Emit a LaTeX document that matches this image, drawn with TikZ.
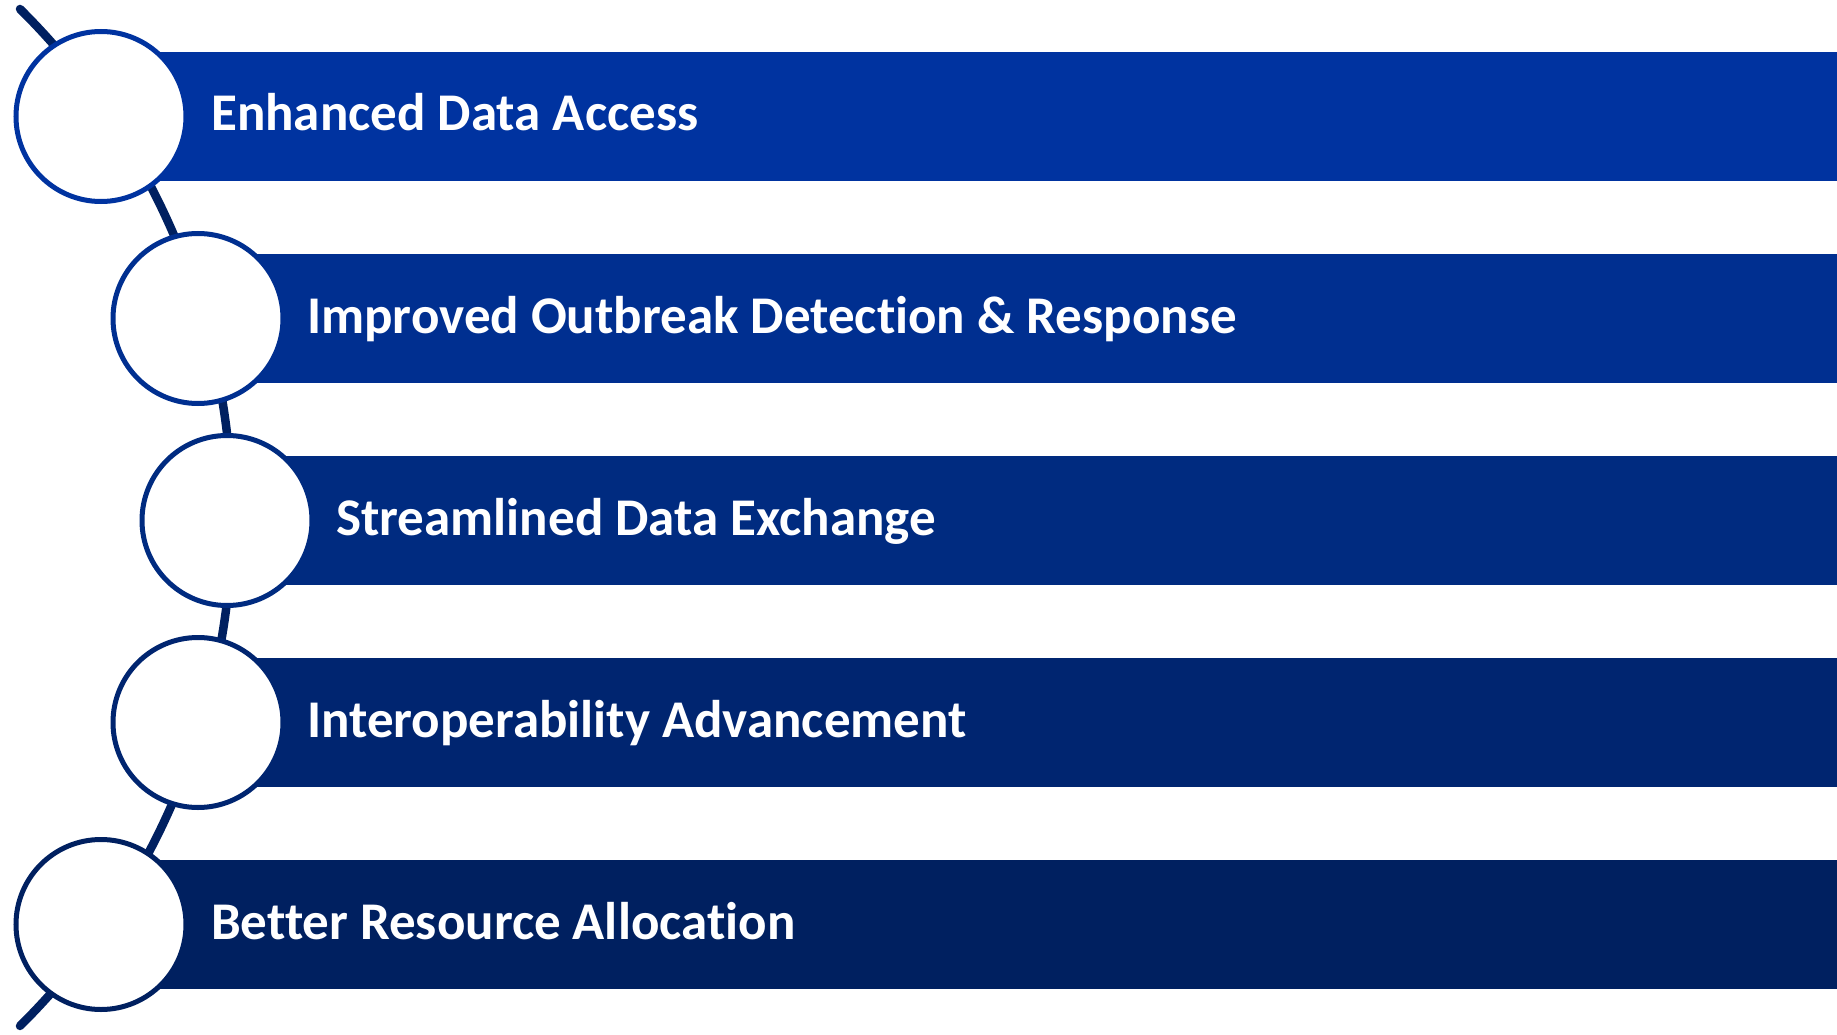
\documentclass[tikz,border=0pt]{standalone}
\usepackage{fontspec}
\setmainfont[Ligatures=NoCommon]{Carlito}
\pgfdeclarelayer{bg}
\pgfsetlayers{bg,main}
\definecolor{rowA}{RGB}{0,51,160}
\definecolor{rowB}{RGB}{0,47,144}
\definecolor{rowC}{RGB}{0,43,128}
\definecolor{rowD}{RGB}{0,37,112}
\definecolor{rowE}{RGB}{0,32,96}
\definecolor{linkc}{RGB}{0,32,96}
\begin{document}
\begin{tikzpicture}[x=1pt,y=-1pt,
  disc/.style={circle,fill=white,line width=5pt,minimum size=170pt,inner sep=0pt},
  label/.style={anchor=base west,text=white,font=\bfseries\fontsize{53}{62}\selectfont,inner sep=0pt},
  link/.style={draw=linkc,line width=8.5pt,line cap=round}]
\useasboundingbox (0,0) rectangle (1837,1035);

% horizontal bands, one per row
\begin{pgfonlayer}{bg}
  \foreach \cx/\cy/\col in {101/116.5/rowA,198/318.5/rowB,227/520.5/rowC,198/722.5/rowD,101/924.5/rowE}
    \fill[\col] (\cx,\cy-64.5) rectangle (1837,\cy+64.5);
\end{pgfonlayer}

% white discs on the curved spine
\node[disc,draw=rowA] (c1) at (101,116.5) {};
\node[disc,draw=rowB] (c2) at (198,318.5) {};
\node[disc,draw=rowC] (c3) at (227,520.5) {};
\node[disc,draw=rowD] (c4) at (198,722.5) {};
\node[disc,draw=rowE] (c5) at (101,924.5) {};

% row titles
\node[label] (t1) at (211,131) {Enhanced Data Access};
\node[label] (t2) at (307,333) {Improved Outbreak Detection \& Response};
\node[label] (t3) at (336,535) {Streamlined Data Exchange};
\node[label] (t4) at (307,737) {Interoperability Advancement};
\node[label] (t5) at (211,939) {Better Resource Allocation};

% curved spine: one circular arc behind the discs
\coordinate (head) at (20,9);
\begin{pgfonlayer}{bg}
  \draw[link] (head) arc[start angle=-45.26, end angle=45.26, radius=715.9];
\end{pgfonlayer}
\end{tikzpicture}
\end{document}
